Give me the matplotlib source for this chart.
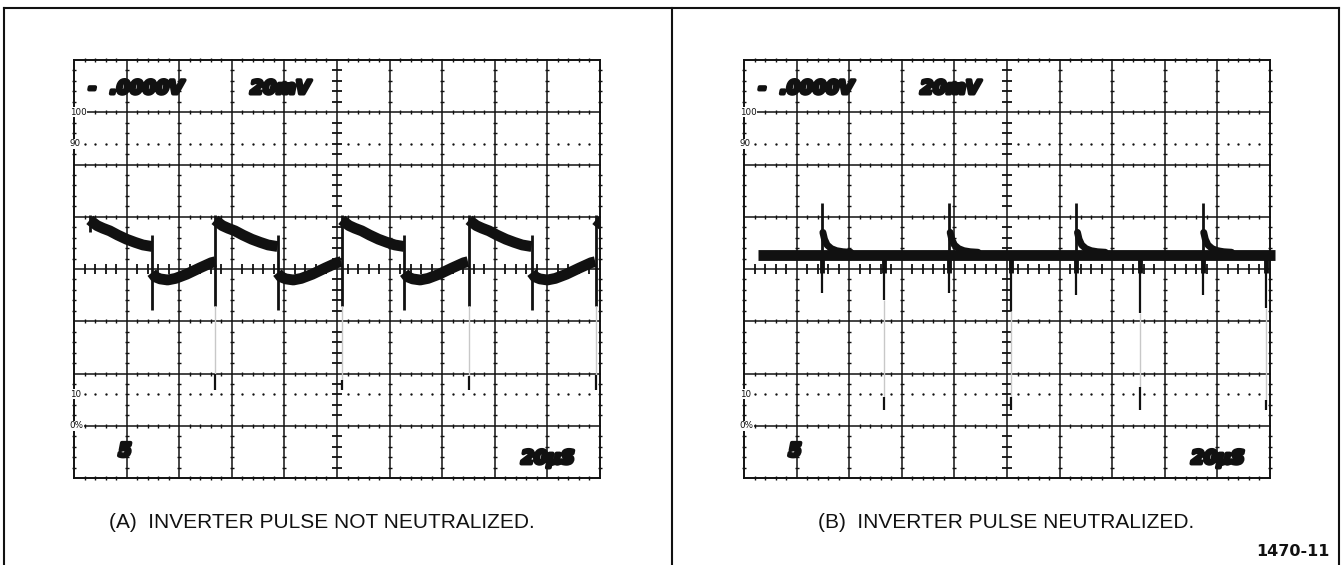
import matplotlib.pyplot as plt
import matplotlib.patheffects as pe
from matplotlib.lines import Line2D

W, H = 1344, 565
INK = '#111111'
FAINT = '#c8c8c8'

# graticule boxes in pixels: left, top, right, bottom
BOX_A = (74, 60, 600, 478)
BOX_B = (744, 60, 1270, 478)

# ---- trace A (not neutralized), values in divisions
a_rise = [0.30, 2.68, 5.09, 7.51, 9.92]
a_rise_bottom = [4.70, 3.30, 3.30, 3.30, 3.30]
a_tail_top = [None, 2.00, 1.88, 1.95, 1.97]
a_tail_bottom = 1.68
a_decay_dx = [0.0, 0.06, 0.14, 0.25, 0.38, 0.53, 0.70, 0.86, 1.01, 1.19]
a_decay_y = [4.94, 4.89, 4.83, 4.78, 4.73, 4.65, 4.57, 4.51, 4.46, 4.43]
a_fall = [1.48, 3.87, 6.28, 8.70]
a_fall_top = 4.66
a_fall_bottom = [3.21, 3.21, 3.22, 3.22]
a_low_dx = [0.0, 0.06, 0.16, 0.30, 0.45, 0.66, 0.91, 1.13, 1.21]
a_low_y = [3.93, 3.85, 3.81, 3.79, 3.82, 3.90, 4.02, 4.12, 4.14]

# ---- trace B (neutralized)
b_start, b_end = 0.27, 10.10
b_level = 4.27
b_up = [1.48, 3.90, 6.32, 8.72]
b_up_top = 5.27
b_decay_dx = [0.02, 0.05, 0.10, 0.18, 0.28, 0.40, 0.55]
b_decay_y = [4.70, 4.57, 4.46, 4.39, 4.35, 4.33, 4.32]
b_down = [1.48, 2.67, 3.90, 5.07, 6.32, 7.53, 8.72, 9.93]
b_down_bottom = [3.54, 3.40, 3.54, 3.20, 3.50, 3.15, 3.50, 3.25]
b_tail_top = [None, 1.55, None, 1.55, None, 1.74, None, 1.49]
b_tail_bottom = 1.30

BAND = 7.8   # pt, thickness of the smeared trace
THIN = 2.0

fig = plt.figure(figsize=(W / 100, H / 100), dpi=100)
fig.patch.set_facecolor('white')


def px_axes(box):
    l, t, r, b = box
    return fig.add_axes([l / W, 1 - b / H, (r - l) / W, (b - t) / H])


def graticule(ax):
    ax.set_xlim(0, 10)
    ax.set_ylim(0, 8)
    ax.axis('off')
    minor_x = [k / 5 for k in range(51) if k % 5]
    minor_y = [k / 5 for k in range(41) if k % 5]
    for x in range(11):
        ax.axvline(x, color=INK, lw=1.1 if x not in (0, 10) else 1.4, clip_on=False)
        size = 6.5 if x == 5 else 2.6
        ax.plot([x] * len(minor_y), minor_y, ls='none', marker='_', ms=size,
                mew=1.3 if x == 5 else 1.0, color=INK, clip_on=False)
    for y in range(9):
        ax.axhline(y, color=INK, lw=1.1 if y not in (0, 8) else 1.4, clip_on=False)
        size = 6.5 if y == 4 else 2.6
        ax.plot(minor_x, [y] * len(minor_x), ls='none', marker='|', ms=size,
                mew=1.3 if y == 4 else 1.0, color=INK, clip_on=False)
    for y in (6.4, 1.6):
        ax.plot(minor_x, [y] * len(minor_x), ls='none', marker='o', ms=1.7,
                mew=0, color=INK)
    small = dict(fontsize=6.3, ha='left', va='center', color=INK,
                 bbox=dict(facecolor='white', edgecolor='none', pad=0.3))
    for y, s in [(7, '100'), (6.4, '90'), (1.6, '10'), (1, '0%')]:
        ax.text(-0.08, y, s, **small)
    scope = dict(fontsize=13.5, weight='bold', style='italic', color=INK, va='center',
                 path_effects=[pe.withStroke(linewidth=2.6, foreground=INK)])
    ax.text(0.35, 7.46, '-', ha='center', **scope)
    ax.text(0.68, 7.46, '.0000V', ha='left', **scope)
    ax.text(3.35, 7.46, '20mV', ha='left', **scope)
    ax.text(0.97, 0.52, '5', ha='center', **scope)
    ax.text(8.50, 0.38, '20\u03bcS', ha='left', **scope)


ax_a = px_axes(BOX_A)
graticule(ax_a)
for x0, bot, tail in zip(a_rise, a_rise_bottom, a_tail_top):
    ax_a.plot([x0 + d for d in a_decay_dx], a_decay_y, color=INK, lw=BAND,
              solid_capstyle='butt', solid_joinstyle='round')
    ax_a.vlines(x0, bot, 5.03, color=INK, lw=THIN)
    if tail is not None:
        ax_a.vlines(x0, tail, bot, color=FAINT, lw=1.0)
        ax_a.vlines(x0, a_tail_bottom, tail, color=INK, lw=1.6)
for x0, bot in zip(a_fall, a_fall_bottom):
    ax_a.plot([x0 + d for d in a_low_dx], a_low_y, color=INK, lw=BAND,
              solid_capstyle='butt', solid_joinstyle='round')
    ax_a.vlines(x0, bot, a_fall_top, color=INK, lw=THIN)

ax_b = px_axes(BOX_B)
graticule(ax_b)
ax_b.plot([b_start, b_end], [b_level, b_level], color=INK, lw=BAND,
          solid_capstyle='butt', clip_on=False)
for x0 in b_up:
    ax_b.vlines(x0, b_level, b_up_top, color=INK, lw=THIN)
    ax_b.plot([x0 + d for d in b_decay_dx], b_decay_y, color=INK, lw=5.0,
              solid_capstyle='round', solid_joinstyle='round')
for x0, bot, tail in zip(b_down, b_down_bottom, b_tail_top):
    ax_b.vlines(x0, b_level - 0.35, b_level, color=INK, lw=3.5)
    ax_b.vlines(x0, bot, b_level, color=INK, lw=1.6)
    if tail is not None:
        ax_b.vlines(x0, tail, bot, color=FAINT, lw=1.0)
        ax_b.vlines(x0, b_tail_bottom, tail, color=INK, lw=1.6)

# page frame
for xs, ys in [((4, 1339), (8, 8)), ((4, 4), (8, 565)),
               ((672, 672), (8, 565)), ((1339, 1339), (8, 565))]:
    fig.add_artist(Line2D([x / W for x in xs], [1 - y / H for y in ys],
                          color=INK, lw=1.5))

cap = dict(fontsize=15, family='Liberation Sans', ha='center', va='center', color=INK)
fig.text(322 / W, 1 - 522 / H, '(A)  INVERTER PULSE NOT NEUTRALIZED.', **cap)
fig.text(1006 / W, 1 - 522 / H, '(B)  INVERTER PULSE NEUTRALIZED.', **cap)
fig.text(1330 / W, 1 - 551 / H, '1470-11', fontsize=11.5, weight='bold',
         ha='right', va='center', color=INK)

fig.savefig('out.png', dpi=100, facecolor='white')
